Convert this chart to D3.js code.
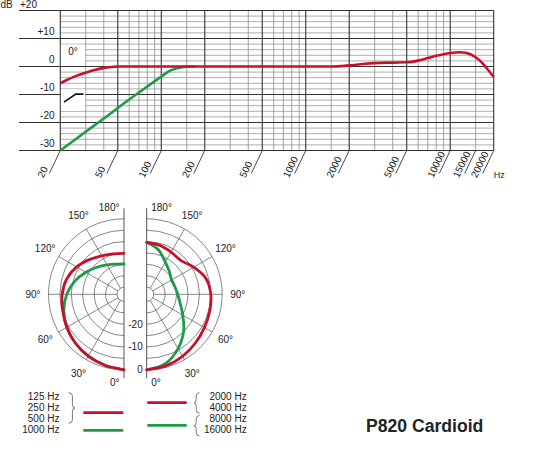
<!DOCTYPE html>
<html><head><meta charset="utf-8">
<script src="https://cdn.jsdelivr.net/npm/d3@7"></script>
<style>
body{margin:0;background:#fff}
svg{display:block;background:#fff}
text{font-family:"Liberation Sans",Arial,Helvetica,sans-serif;fill:#222}
</style>
</head><body>
<svg id="c" width="550" height="450"></svg>
<script>
// ---------- DATA ----------
const majorFreqs = [20,50,100,200,500,1000,2000,5000,10000,20000];
const minorFreqs = [30,40,60,70,80,90,150,300,400,600,700,800,900,1500,3000,4000,6000,7000,8000,9000,15000];
const freqLabels = [20,50,100,200,500,1000,2000,5000,10000,15000,20000];
const dbTicks  = [20,10,0,-10,-20,-30];
const dbLabels = ["+20","+10","0","-10","-20","-30"];

// 0° response, red (on-axis) and green (bass-cut position)
const redFreq = [20,22,25,30,35,40,45,50,100,200,500,1000,1500,2000,2500,3000,4000,5000,6000,7000,8000,9000,10000,11500,13000,15000,16500,18000,20000];
const redDb   = [-6,-4.9,-3.6,-2.2,-1.2,-0.5,-0.15,0,0,0,0,0,0,0.4,0.9,1.2,1.4,1.5,2.1,3.0,3.8,4.4,4.8,5.1,4.8,3.3,1.5,-0.8,-3.7];
const greenFreq = [20,30,40,50,70,100,115,130,150,170];
const greenDb   = [-30,-23.3,-18.6,-14.8,-9.3,-3.6,-1.5,-0.5,-0.05,0];

// polar patterns (dB) at angles 0..180 step 15
const polarAngles = [0,15,30,45,60,75,90,105,120,135,150,165,180];
const lowRed    = [0,-0.9,-1.8,-2.9,-4.1,-5.3,-6.0,-7.1,-9.1,-11.6,-13.6,-14.7,-15.1];   // 125/250/500 Hz
const lowGreen  = [0,-0.9,-1.8,-2.9,-4.2,-5.8,-8.0,-10.8,-13.8,-16.3,-18.2,-19.4,-19.8]; // 1000 Hz
const highRed   = [0,-0.6,-1.7,-2.9,-3.9,-4.5,-5.0,-6.2,-9.3,-12.0,-11.7,-10.9,-10.3];   // 2000/4000 Hz
const highGreen = [0,-1.6,-5.6,-10.2,-14.8,-17.9,-19.5,-20.3,-20.5,-19.0,-16.8,-13.0,-10.3]; // 8000/16000 Hz
const ringDb = [-30,-25,-20,-15,-10,-5,0];
const spokeAngles = [30,60,90,120,150];
const angleLabels = [0,30,60,90,120,150,180];
const radialLabels = [0,-10,-20];
const legendLow  = ["125 Hz","250 Hz","500 Hz","1000 Hz"];
const legendHigh = ["2000 Hz","4000 Hz","8000 Hz","16000 Hz"];
const title = "P820 Cardioid";

const RED = "#c8102e", GREEN = "#1f9a48";

// ---------- FREQUENCY RESPONSE ----------
const svg = d3.select("#c");
const x = d3.scaleLog().domain([20,20000]).range([60.3,493.7]);
const y = d3.scaleLinear().domain([-30,20]).range([150.5,10.5]);
const fr = svg.append("g");

const minorDb = d3.range(-30,21,2).filter(v => v % 10 !== 0);
fr.selectAll("line.hm").data(minorDb).join("line").attr("class","hm")
  .attr("x1",x(20)).attr("x2",x(20000)).attr("y1",d=>y(d)).attr("y2",d=>y(d))
  .attr("stroke","#8a8a8a").attr("stroke-width",0.7);
fr.selectAll("line.vm").data(minorFreqs).join("line").attr("class","vm")
  .attr("x1",d=>x(d)).attr("x2",d=>x(d)).attr("y1",y(20)).attr("y2",y(-30))
  .attr("stroke","#8a8a8a").attr("stroke-width",0.8);
fr.selectAll("line.vM").data(majorFreqs).join("line").attr("class","vM")
  .attr("x1",d=>x(d)).attr("x2",d=>x(d)).attr("y1",y(20)).attr("y2",y(-30))
  .attr("stroke","#333").attr("stroke-width",1.1);
fr.selectAll("line.hM").data(dbTicks).join("line").attr("class","hM")
  .attr("x1",19).attr("x2",x(20000)).attr("y1",d=>y(d)).attr("y2",d=>y(d))
  .attr("stroke","#333").attr("stroke-width",1);

// y labels
fr.selectAll("text.yl").data(dbTicks.slice(1)).join("text").attr("class","yl")
  .attr("x",54.5).attr("y",d=>y(d)-3.2).attr("text-anchor","end").attr("font-size",10)
  .text((d,i)=>dbLabels[i+1]);
fr.append("text").attr("x",0.5).attr("y",y(dbTicks[0])-3).attr("font-size",10).text("dB");
fr.append("text").attr("x",37).attr("y",y(dbTicks[0])-3).attr("text-anchor","end").attr("font-size",10).text(dbLabels[0]);

// x ticks (slanted) and labels
const xt = fr.selectAll("g.xt").data(freqLabels).join("g").attr("class","xt");
xt.append("line").attr("x1",d=>x(d)).attr("y1",y(-30)).attr("x2",d=>x(d)-11).attr("y2",y(-30)+23)
  .attr("stroke","#333").attr("stroke-width",0.9);
xt.append("text").attr("transform",d=>`translate(${x(d)-17},${y(-30)+28}) rotate(-64)`)
  .attr("font-size",10).text(d=>d);
fr.append("text").attr("x",x(20000)).attr("y",y(-30)+27).attr("font-size",9).text("Hz");

// "0°" box
fr.append("rect").attr("x",x(20)+0.6).attr("y",y(8)+0.5).attr("width",x(30)-x(20)-1.2).attr("height",y(0)-y(8)-1.1).attr("fill","#fff");
fr.append("text").attr("x",(x(20)+x(30))/2).attr("y",y(8)+11).attr("text-anchor","middle").attr("font-size",10).text("0°");
// bass-cut symbol box
fr.append("rect").attr("x",x(20)+0.6).attr("y",y(-8)+0.5).attr("width",x(30)-x(20)-1.2).attr("height",y(-16)-y(-8)-1.1).attr("fill","#fff");
fr.append("path").attr("d",d3.line()([[x(21.2),y(-12.7)],[x(25.6),y(-9.85)],[x(28.9),y(-9.85)]]))
  .attr("fill","none").attr("stroke","#111").attr("stroke-width",1.6);

const respLine = d3.line().x(d=>x(d[0])).y(d=>y(d[1])).curve(d3.curveMonotoneX);
fr.append("path").attr("d",respLine(d3.zip(greenFreq,greenDb)))
  .attr("fill","none").attr("stroke",GREEN).attr("stroke-width",2.6);
fr.append("path").attr("d",respLine(d3.zip(redFreq,redDb)))
  .attr("fill","none").attr("stroke",RED).attr("stroke-width",2.6);

// ---------- POLAR ----------
const cy = 294.3;
const rScale = d3.scaleLinear().domain([-30,0]).range([7,75.5]);
const halves = [
  {cx:124, side:-1, data:[[lowGreen,GREEN],[lowRed,RED]]},
  {cx:146.7, side:1, data:[[highGreen,GREEN],[highRed,RED]]}
];
const rad = d => d*Math.PI/180;
halves.forEach(h=>{
  const g = svg.append("g").attr("transform",`translate(${h.cx},${cy})`);
  // rings
  g.selectAll("path.ring").data(ringDb).join("path").attr("class","ring")
    .attr("d",d=>{const p=d3.path(); const r=rScale(d); p.moveTo(0,r); p.arc(0,0,r,Math.PI/2,-Math.PI/2,h.side>0); return p.toString();})
    .attr("fill","none").attr("stroke","#5e5e5e").attr("stroke-width",0.75);
  // spokes
  g.selectAll("line.sp").data(spokeAngles).join("line").attr("class","sp")
    .attr("x1",a=>h.side*rScale(-30)*Math.sin(rad(a))).attr("y1",a=>rScale(-30)*Math.cos(rad(a)))
    .attr("x2",a=>h.side*rScale(0)*Math.sin(rad(a))).attr("y2",a=>rScale(0)*Math.cos(rad(a)))
    .attr("stroke","#5e5e5e").attr("stroke-width",0.75);
  // vertical axis
  g.append("line").attr("x1",0).attr("x2",0).attr("y1",-86).attr("y2",84).attr("stroke","#555").attr("stroke-width",1);
  // angle labels
  g.selectAll("text.al").data(angleLabels).join("text").attr("class","al")
    .attr("font-size",10)
    .attr("text-anchor",a=> (a===0||a===180) ? (h.side<0?"end":"start") : "middle")
    .attr("x",a=> (a===0||a===180) ? h.side*4.5 : h.side*91*Math.sin(rad(a)))
    .attr("y",a=> a===180 ? -83 : a===0 ? 92 : 91*Math.cos(rad(a)))
    .attr("dy",a=> (a===0||a===180) ? 0 : "0.35em")
    .text(a=>a+"°");
  // curves
  const lr = d3.lineRadial()
    .angle(d=> h.side>0 ? Math.PI - rad(d[0]) : Math.PI + rad(d[0]))
    .radius(d=>rScale(d[1]))
    .curve(d3.curveCatmullRom.alpha(0.5));
  h.data.forEach(([vals,col])=>{
    g.append("path").attr("d",lr(d3.zip(polarAngles,vals)))
      .attr("fill","none").attr("stroke",col).attr("stroke-width",2.8).attr("stroke-linecap","round");
  });
});
// radial labels (between halves)
svg.selectAll("text.rl").data(radialLabels).join("text").attr("class","rl")
  .attr("x",142.7).attr("y",d=>cy+rScale(d)).attr("dy","0.35em").attr("text-anchor","end").attr("font-size",10)
  .text(d=>d);

// ---------- LEGEND ----------
const lg = svg.append("g");
lg.selectAll("text.ll").data(legendLow).join("text").attr("class","ll")
  .attr("x",59.5).attr("y",(d,i)=>400+i*11.1).attr("text-anchor","end").attr("font-size",10).text(d=>d);
lg.selectAll("text.lh").data(legendHigh).join("text").attr("class","lh")
  .attr("x",246.7).attr("y",(d,i)=>400+i*11.1).attr("text-anchor","end").attr("font-size",10).text(d=>d);

function brace(x0,y1,y2,w){ // w>0 : "}" , w<0 : "{"
  const ym=(y1+y2)/2, xm=x0+w*0.6, k=3.5;
  const p=d3.path();
  p.moveTo(x0,y1);
  p.quadraticCurveTo(xm,y1,xm,y1+k);
  p.lineTo(xm,ym-k);
  p.quadraticCurveTo(xm,ym,x0+w,ym);
  p.quadraticCurveTo(xm,ym,xm,ym+k);
  p.lineTo(xm,y2-k);
  p.quadraticCurveTo(xm,y2,x0,y2);
  return p.toString();
}
lg.append("path").attr("d",brace(68.5,392.7,423.3,6.5)).attr("fill","none").attr("stroke","#555").attr("stroke-width",0.8);
lg.append("path").attr("d",brace(199.5,392.7,413.3,-5.5)).attr("fill","none").attr("stroke","#555").attr("stroke-width",0.8);
lg.append("path").attr("d",brace(199.5,415.5,436,-5.5)).attr("fill","none").attr("stroke","#555").attr("stroke-width",0.8);

lg.append("line").attr("x1",83.3).attr("x2",123.3).attr("y1",412.7).attr("y2",412.7).attr("stroke",RED).attr("stroke-width",2.8);
lg.append("line").attr("x1",83.3).attr("x2",123.3).attr("y1",430.3).attr("y2",430.3).attr("stroke",GREEN).attr("stroke-width",2.8);
lg.append("line").attr("x1",147.3).attr("x2",186.7).attr("y1",402.7).attr("y2",402.7).attr("stroke",RED).attr("stroke-width",2.8);
lg.append("line").attr("x1",147.3).attr("x2",186.7).attr("y1",425.3).attr("y2",425.3).attr("stroke",GREEN).attr("stroke-width",2.8);

svg.append("text").attr("x",366).attr("y",431.7).attr("font-size",17.6).attr("font-weight","bold").attr("fill","#111").text(title);
</script>
</body></html>
